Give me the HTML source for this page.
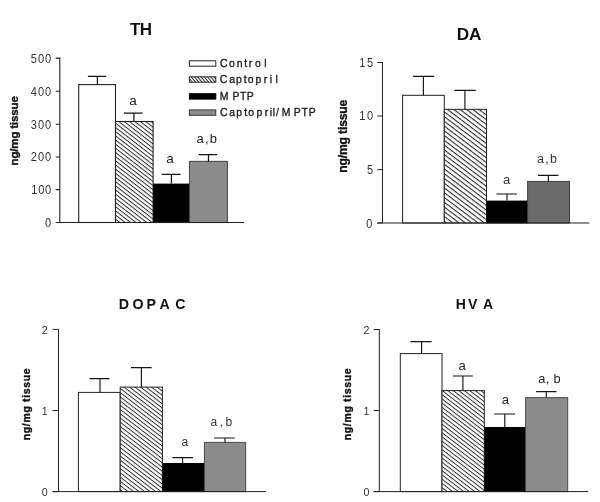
<!DOCTYPE html>
<html lang="en"><head><meta charset="utf-8"><title>TH, DA, DOPAC, HVA</title>
<style>html,body{margin:0;padding:0;background:#fff}body{width:600px;height:502px;overflow:hidden}svg{display:block}text{font-family:"Liberation Sans",Arial,Helvetica,sans-serif;stroke-width:.35px;stroke-linejoin:round}</style>
</head><body>
<svg width="600" height="502" viewBox="0 0 600 502">
<rect width="600" height="502" fill="#fff"/>
<defs>
<pattern id="h1" patternUnits="userSpaceOnUse" width="3.3" height="3.3" patternTransform="rotate(37.7)"><rect x="0" y="0" width="3.3" height="3.3" fill="#fff"/><rect x="0" y="0" width="3.3" height="0.98" fill="#2a2a2a"/></pattern>
<pattern id="h2" patternUnits="userSpaceOnUse" width="3.8" height="3.8" patternTransform="rotate(37)"><rect x="0" y="0" width="3.8" height="3.8" fill="#fff"/><rect x="0" y="0" width="3.8" height="1.08" fill="#2a2a2a"/></pattern>
<pattern id="h3" patternUnits="userSpaceOnUse" width="3.35" height="3.35" patternTransform="rotate(37.5)"><rect x="0" y="0" width="3.35" height="3.35" fill="#fff"/><rect x="0" y="0" width="3.35" height="0.95" fill="#2a2a2a"/></pattern>
<pattern id="h4" patternUnits="userSpaceOnUse" width="3.35" height="3.35" patternTransform="rotate(37.5)"><rect x="0" y="0" width="3.35" height="3.35" fill="#fff"/><rect x="0" y="0" width="3.35" height="0.95" fill="#2a2a2a"/></pattern>
<pattern id="hl" patternUnits="userSpaceOnUse" width="2.5" height="2.5" patternTransform="rotate(50)"><rect x="0" y="0" width="2.5" height="2.5" fill="#fff"/><rect x="0" y="0" width="2.5" height="1" fill="#2a2a2a"/></pattern>
</defs>
<rect x="78.7" y="84.6" width="36.8" height="137.9" fill="#fff" stroke="#222" stroke-width="1.1"/>
<rect x="115.5" y="121.5" width="37.6" height="101" fill="url(#h1)" stroke="#222" stroke-width="1.1"/>
<rect x="153.1" y="183.6" width="36.95" height="39.45" fill="#000"/>
<rect x="189.5" y="161.4" width="37.9" height="61.1" fill="#8c8c8c" stroke="#4a4a4a" stroke-width="1.1"/>
<path d="M97.4 84.6V76.3M87.9 76.3H106.3" stroke="#151515" stroke-width="1.25" fill="none"/>
<path d="M133.9 121.5V113.2M124 113.2H142.7" stroke="#151515" stroke-width="1.25" fill="none"/>
<path d="M171.4 183.6V174.3M161.7 174.3H180.6" stroke="#151515" stroke-width="1.25" fill="none"/>
<path d="M208.5 161.4V154.6M198.5 154.6H217.2" stroke="#151515" stroke-width="1.25" fill="none"/>
<path d="M59.8 57.45V222.5M55.7 222.5H244M55.7 58.1H59.8M55.7 91.2H59.8M55.7 124.3H59.8M55.7 157H59.8M55.7 189.6H59.8M55.7 222.5H59.8" stroke="#222" stroke-width="1.1" fill="none"/>
<text transform="translate(51.2 62.5) scale(0.9 1)" font-size="12.3" text-anchor="end" fill="#333" textLength="22.67" lengthAdjust="spacing">500</text>
<text transform="translate(51.2 95.6) scale(0.9 1)" font-size="12.3" text-anchor="end" fill="#333" textLength="22.67" lengthAdjust="spacing">400</text>
<text transform="translate(51.2 128.7) scale(0.9 1)" font-size="12.3" text-anchor="end" fill="#333" textLength="22.67" lengthAdjust="spacing">300</text>
<text transform="translate(51.2 161.4) scale(0.9 1)" font-size="12.3" text-anchor="end" fill="#333" textLength="22.67" lengthAdjust="spacing">200</text>
<text transform="translate(51.2 194) scale(0.9 1)" font-size="12.3" text-anchor="end" fill="#333" textLength="22.22" lengthAdjust="spacing">100</text>
<text transform="translate(51.2 227.4) scale(0.9 1)" font-size="12.3" text-anchor="end" fill="#333">0</text>
<text x="129.3" y="104.6" font-size="13.5" fill="#222">a</text>
<text x="166.3" y="163.4" font-size="13.5" fill="#222">a</text>
<text x="196.5" y="143.4" font-size="13" fill="#222" textLength="20.5" lengthAdjust="spacing">a,b</text>
<text x="130" y="35" font-size="17" font-weight="bold" fill="#111" textLength="22" lengthAdjust="spacing">TH</text>
<text transform="translate(17.5 165.4) rotate(-90)" font-size="11.5" font-weight="bold" fill="#111" stroke="#111" stroke-width="0.3" textLength="69.2" lengthAdjust="spacing">ng/mg tissue</text>
<rect x="189.4" y="60.8" width="26.4" height="5.4" fill="#fff" stroke="#222" stroke-width="1"/>
<rect x="189.4" y="76.8" width="26.4" height="5.4" fill="url(#hl)" stroke="#222" stroke-width="1"/>
<rect x="189.4" y="93.7" width="26.4" height="5.4" fill="#000" stroke="#000" stroke-width="1"/>
<rect x="189.4" y="109.9" width="26.4" height="5.4" fill="#8c8c8c" stroke="#3a3a3a" stroke-width="1"/>
<text transform="scale(0.9 1)" x="244.42 254.54 263.08 271.43 276.41 283.42 293.63" y="67.3" font-size="11.6" fill="#1a1a1a" stroke="#1a1a1a" stroke-width=".42">Control</text>
<text transform="scale(0.9 1)" x="244.31 254.87 262.3 270.88 275.2 283.97 292.97 299.85 306.08" y="83.3" font-size="11.6" fill="#1a1a1a" stroke="#1a1a1a" stroke-width=".42">Captopril</text>
<text transform="scale(0.9 1)" x="244.19 258.29 266.77 274.18" y="100.1" font-size="11.6" fill="#1a1a1a" stroke="#1a1a1a" stroke-width=".42">MPTP</text>
<text transform="scale(0.9 1)" x="244.53 254.81 262.63 271.32 275.76 285.02 294.19 299.74 302.97 306.78 313.08 326.29 335.1 342.96" y="116.3" font-size="11.6" fill="#1a1a1a" stroke="#1a1a1a" stroke-width=".42">Captopril/MPTP</text>
<rect x="402.6" y="95.3" width="41.7" height="127.7" fill="#fff" stroke="#222" stroke-width="1.0"/>
<rect x="444.3" y="109.3" width="42.2" height="113.7" fill="url(#h2)" stroke="#222" stroke-width="1.0"/>
<rect x="486.5" y="200.6" width="41.6" height="22.9" fill="#000"/>
<rect x="527.6" y="181.4" width="41.9" height="41.6" fill="#6b6b6b" stroke="#3c3c3c" stroke-width="1.0"/>
<path d="M423.4 95.3V76.4M412.9 76.4H434.3" stroke="#151515" stroke-width="1.15" fill="none"/>
<path d="M464.9 109.3V90.4M454.4 90.4H475.8" stroke="#151515" stroke-width="1.15" fill="none"/>
<path d="M507 200.6V194M496.4 194H517" stroke="#151515" stroke-width="1.15" fill="none"/>
<path d="M548.4 181.4V175.4M538 175.4H558.4" stroke="#151515" stroke-width="1.15" fill="none"/>
<path d="M382.5 62V223M377.3 223H589.4M377.3 62.5H382.5M377.3 116H382.5M377.3 169.6H382.5M377.3 223H382.5" stroke="#222" stroke-width="1.0" fill="none"/>
<text transform="translate(373 66.5) scale(0.9 1)" font-size="12.2" text-anchor="end" fill="#333" textLength="15.33" lengthAdjust="spacing">15</text>
<text transform="translate(373 120) scale(0.9 1)" font-size="12.2" text-anchor="end" fill="#333" textLength="15.33" lengthAdjust="spacing">10</text>
<text transform="translate(373 173.6) scale(0.9 1)" font-size="12.2" text-anchor="end" fill="#333">5</text>
<text transform="translate(372.4 228.1) scale(0.9 1)" font-size="12.2" text-anchor="end" fill="#333">0</text>
<text x="503" y="183.6" font-size="13" fill="#333">a</text>
<text x="537" y="163.3" font-size="12.5" fill="#333" textLength="20" lengthAdjust="spacing">a,b</text>
<text x="456.8" y="39.5" font-size="17.2" font-weight="bold" fill="#111" textLength="24.6" lengthAdjust="spacing">DA</text>
<text transform="translate(347.4 172.7) rotate(-90)" font-size="12.1" font-weight="bold" fill="#111" stroke="#111" stroke-width="0.3" textLength="73" lengthAdjust="spacing">ng/mg tissue</text>
<rect x="78.4" y="392.4" width="41.8" height="99.2" fill="#fff" stroke="#222" stroke-width="1.0"/>
<rect x="120.2" y="387.1" width="42.2" height="104.5" fill="url(#h3)" stroke="#222" stroke-width="1.0"/>
<rect x="162.4" y="463" width="42.5" height="29.1" fill="#000"/>
<rect x="204.4" y="442.4" width="41.3" height="49.2" fill="#8c8c8c" stroke="#4a4a4a" stroke-width="1.0"/>
<path d="M100 392.4V378.6M89.4 378.6H109.5" stroke="#151515" stroke-width="1.15" fill="none"/>
<path d="M141.4 387.1V367.6M131 367.6H151.6" stroke="#151515" stroke-width="1.15" fill="none"/>
<path d="M182.6 463V457.6M172.4 457.6H193" stroke="#151515" stroke-width="1.15" fill="none"/>
<path d="M225 442.4V438M214 438H234.6" stroke="#151515" stroke-width="1.15" fill="none"/>
<path d="M58.5 328.9V491.6M52.6 491.6H266M52.6 329.4H58.5M52.6 410.5H58.5M52.6 491.6H58.5" stroke="#222" stroke-width="1.0" fill="none"/>
<text x="47.7" y="333.6" font-size="10.7" text-anchor="end" fill="#333">2</text>
<text x="47.7" y="414.7" font-size="10.7" text-anchor="end" fill="#333">1</text>
<text x="47.7" y="495.8" font-size="10.7" text-anchor="end" fill="#333">0</text>
<text x="181.6" y="445.5" font-size="12" fill="#333">a</text>
<text x="210.6" y="426" font-size="12" fill="#333" textLength="21.5" lengthAdjust="spacing">a,b</text>
<text x="118.8 132.6 146.5 159.4 175.2" y="308.5" font-size="14.2" font-weight="bold" fill="#111">DOPAC</text>
<text transform="translate(30.4 440.3) rotate(-90)" font-size="10.5" font-weight="bold" fill="#111" stroke="#111" stroke-width="0.3" textLength="72" lengthAdjust="spacing">ng/mg tissue</text>
<rect x="400.3" y="353.6" width="41.7" height="138" fill="#fff" stroke="#222" stroke-width="1.0"/>
<rect x="442" y="390.6" width="42.3" height="101" fill="url(#h4)" stroke="#222" stroke-width="1.0"/>
<rect x="484.3" y="427" width="41.8" height="65.1" fill="#000"/>
<rect x="525.6" y="397.6" width="42.1" height="94" fill="#8c8c8c" stroke="#4a4a4a" stroke-width="1.0"/>
<path d="M421.6 353.6V341.6M410.4 341.6H431.6" stroke="#151515" stroke-width="1.15" fill="none"/>
<path d="M462.9 390.6V376M452.9 376H472.8" stroke="#151515" stroke-width="1.15" fill="none"/>
<path d="M504.8 427V414M494.2 414H515" stroke="#151515" stroke-width="1.15" fill="none"/>
<path d="M546.3 397.6V391.6M536.1 391.6H556.5" stroke="#151515" stroke-width="1.15" fill="none"/>
<path d="M379.3 329V491.6M373.6 491.6H588.2M373.6 329.5H379.3M373.6 410.5H379.3M373.6 491.6H379.3" stroke="#222" stroke-width="1.0" fill="none"/>
<text x="369.5" y="333.5" font-size="10.7" text-anchor="end" fill="#333">2</text>
<text x="369.5" y="414.5" font-size="10.7" text-anchor="end" fill="#333">1</text>
<text x="369.5" y="495.6" font-size="10.7" text-anchor="end" fill="#333">0</text>
<text x="458.4" y="369.7" font-size="13.2" fill="#222">a</text>
<text x="501.7" y="403.5" font-size="13.2" fill="#222">a</text>
<text x="538.2" y="383" font-size="12.8" fill="#222" textLength="22.5" lengthAdjust="spacing">a, b</text>
<text x="455.7 467.9 483" y="308.6" font-size="14" font-weight="bold" fill="#111">HVA</text>
<text transform="translate(351 440.3) rotate(-90)" font-size="10.5" font-weight="bold" fill="#111" stroke="#111" stroke-width="0.3" textLength="72" lengthAdjust="spacing">ng/mg tissue</text>
</svg>
</body></html>
